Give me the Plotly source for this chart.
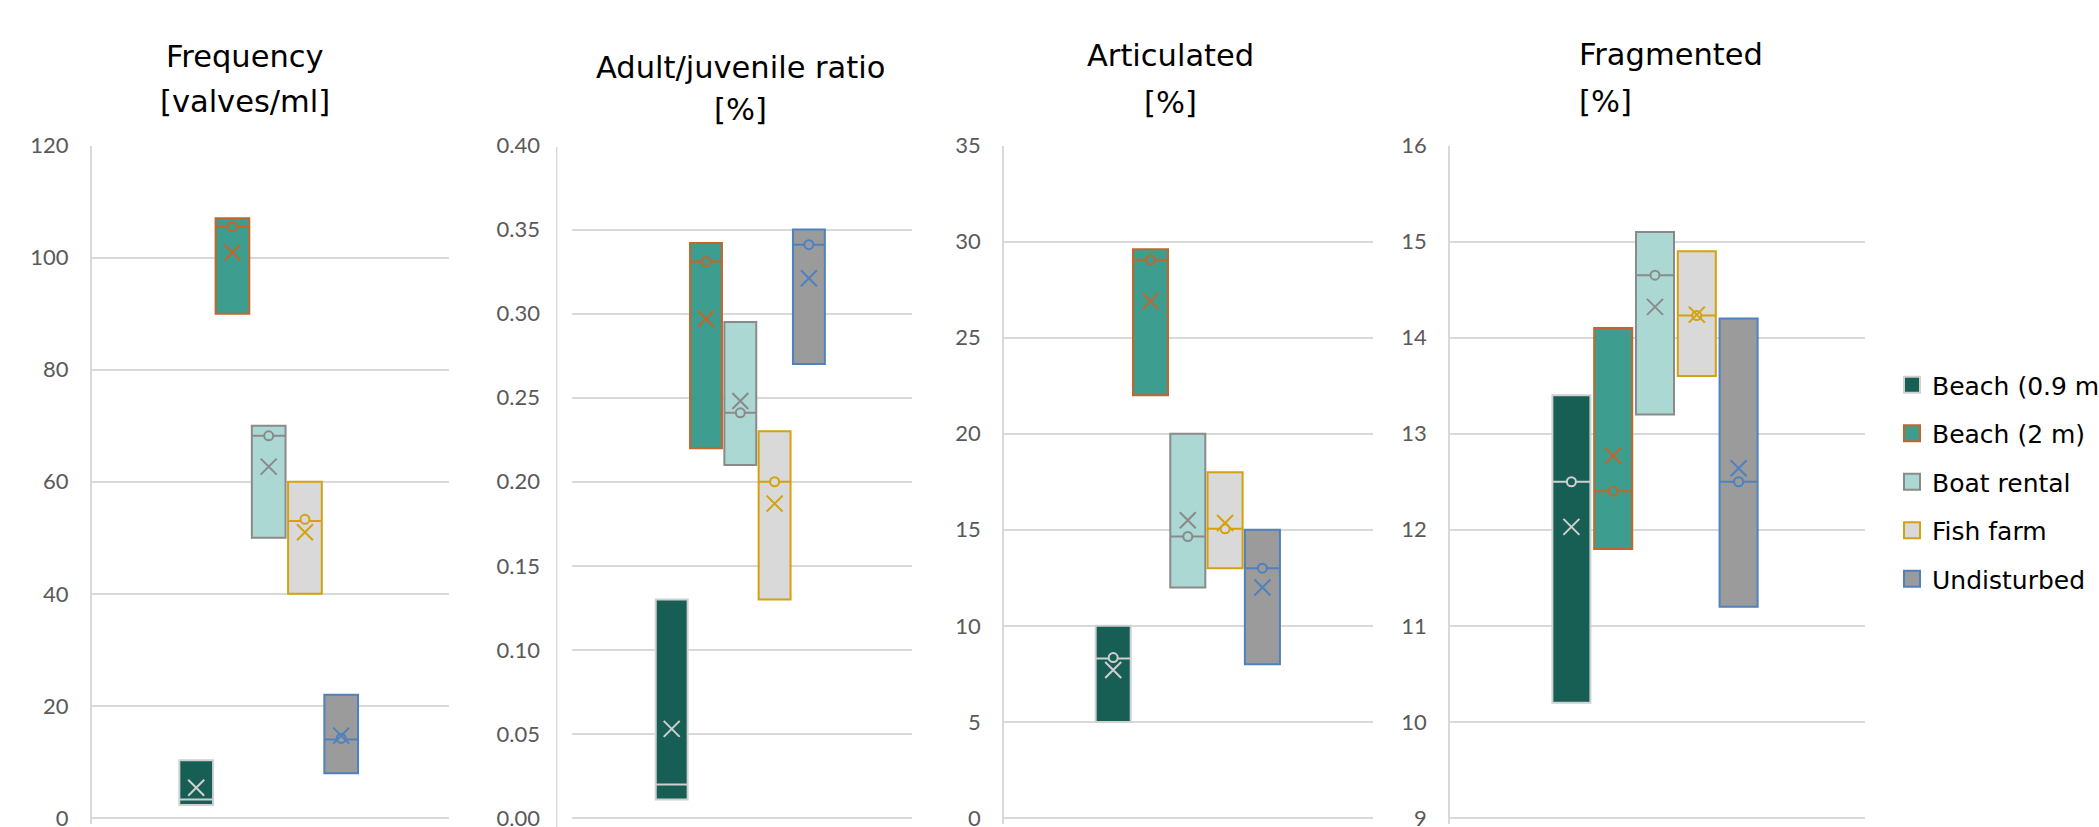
import plotly.graph_objects as go

W, H = 2099, 827

sites = ["Beach (0.9 m)", "Beach (2 m)", "Boat rental", "Fish farm", "Undisturbed"]
fill_colors = ["#175e54", "#3d9e8f", "#acd8d3", "#d9d9d9", "#9b9b9b"]
line_colors = ["#d0d0d0", "#c5652a", "#8a8a8a", "#d4a20c", "#4f81bd"]

# Frequency [valves/ml]
freq_low = [2.3, 90, 50, 40, 8]
freq_high = [10.3, 107, 70, 60, 22]
freq_median = [3.3, 105.5, 68.2, 53, 14]
freq_mean = [5.4, 100.9, 62.7, 51, 14.7]
freq_point = [None, 105.5, 68.2, 53.3, 14.2]

# Adult/juvenile ratio [%]
aj_low = [0.011, 0.22, 0.21, 0.13, 0.27]
aj_high = [0.13, 0.342, 0.295, 0.23, 0.35]
aj_median = [0.02, 0.331, 0.241, 0.2, 0.341]
aj_mean = [0.053, 0.297, 0.248, 0.187, 0.321]
aj_point = [None, 0.331, 0.241, 0.2, 0.341]

# Articulated [%]
art_low = [5, 22, 12, 13, 8]
art_high = [10, 29.6, 20, 18, 15]
art_median = [8.3, 29.05, 14.65, 15.05, 13]
art_mean = [7.7, 26.9, 15.5, 15.35, 12]
art_point = [8.35, 29.05, 14.65, 15.05, 13]

# Fragmented [%]
frag_low = [10.2, 11.8, 13.2, 13.6, 11.2]
frag_high = [13.4, 14.1, 15.1, 14.9, 14.2]
frag_median = [12.5, 12.4, 14.65, 14.23, 12.5]
frag_mean = [12.03, 12.77, 14.32, 14.24, 12.64]
frag_point = [12.5, 12.4, 14.65, 14.23, 12.5]

title_line1 = ["Frequency", "Adult/juvenile ratio", "Articulated", "Fragmented"]
title_line2 = ["[valves/ml]", "[%]", "[%]", "[%]"]

panels = [
    (freq_low, freq_high, freq_median, freq_mean, freq_point),
    (aj_low, aj_high, aj_median, aj_mean, aj_point),
    (art_low, art_high, art_median, art_mean, art_point),
    (frag_low, frag_high, frag_median, frag_mean, frag_point),
]

y_ranges = [[0, 120], [0, 0.4], [0, 35], [9, 16]]
y_dticks = [20, 0.05, 5, 1]
y_formats = ["d", ".2f", "d", "d"]

# layout geometry (pixels)
dom_px = [(91.7, 449), (572, 912), (1004, 1373), (1450, 1865)]
center_px = [268.7, 740.3, 1187.8, 1655]
spacing_px = [36.25, 34.3, 37.3, 41.8]
box_w = [0.93, 0.93, 0.94, 0.91]
standoff = [17, 31, 17, 17]
y_top_px, y_bot_px = 145.5, 818
pad_px = 6
FONT = "Lato"
TFONT = "DejaVu Sans"

fig = go.Figure()

for p, (lo, hi, med, mean, pt) in enumerate(panels):
    xa = "x" if p == 0 else f"x{p+1}"
    ya = "y" if p == 0 else f"y{p+1}"
    for i, s in enumerate(sites):
        fig.add_trace(go.Box(
            x=[s], q1=[lo[i]], median=[med[i]], q3=[hi[i]],
            lowerfence=[lo[i]], upperfence=[hi[i]],
            fillcolor=fill_colors[i], line=dict(color=line_colors[i], width=2),
            width=box_w[p], whiskerwidth=0, boxpoints=False,
            name=s, legendgroup=s, showlegend=False, xaxis=xa, yaxis=ya,
            hoverinfo="skip",
        ))
        if pt[i] is not None:
            fig.add_trace(go.Scatter(
                x=[s], y=[pt[i]], mode="markers",
                marker=dict(symbol="circle", size=9, color=fill_colors[i],
                            line=dict(color=line_colors[i], width=2)),
                name=s, legendgroup=s, showlegend=False, xaxis=xa, yaxis=ya,
            ))
        fig.add_trace(go.Scatter(
            x=[s], y=[mean[i]], mode="markers",
            marker=dict(symbol="x-thin", size=16,
                        line=dict(color=line_colors[i], width=2)),
            name=s, legendgroup=s, showlegend=False, xaxis=xa, yaxis=ya,
        ))

# legend entries
for i, s in enumerate(sites):
    fig.add_trace(go.Scatter(
        x=[None], y=[None], mode="markers",
        marker=dict(symbol="square", size=19, color=fill_colors[i],
                    line=dict(color=line_colors[i], width=2)),
        name=s, legendgroup=s, showlegend=True, xaxis="x", yaxis="y",
    ))

layout = dict(
    width=W, height=H,
    paper_bgcolor="white", plot_bgcolor="white",
    margin=dict(l=0, r=0, t=0, b=0, autoexpand=False),
    boxmode="overlay",
    showlegend=True,
    legend=dict(x=1892 / W, y=1 - 362 / H, xanchor="left", yanchor="top",
                font=dict(family=TFONT, size=25, color="#000000"),
                itemsizing="trace", tracegroupgap=13, bgcolor="rgba(0,0,0,0)"),
    font=dict(family=FONT),
)

ydom = [1 - (y_bot_px + pad_px) / H, 1 - y_top_px / H]
for p in range(4):
    sfx = "" if p == 0 else str(p + 1)
    d0, d1 = dom_px[p]
    lo_r = 2 - (center_px[p] - d0) / spacing_px[p]
    hi_r = 2 + (d1 - center_px[p]) / spacing_px[p]
    span = y_ranges[p][1] - y_ranges[p][0]
    ppu = (y_bot_px - y_top_px) / span
    layout["xaxis" + sfx] = dict(
        domain=[d0 / W, d1 / W], range=[lo_r, hi_r], type="category",
        categoryorder="array", categoryarray=sites,
        showticklabels=False, showgrid=False, zeroline=False, showline=False,
        anchor="y" + sfx, fixedrange=True, automargin=False,
    )
    layout["yaxis" + sfx] = dict(
        domain=ydom, range=[y_ranges[p][0] - pad_px / ppu, y_ranges[p][1]],
        dtick=y_dticks[p], tick0=y_ranges[p][0],
        tickformat=y_formats[p], anchor="x" + sfx,
        showgrid=True, gridcolor="#d9d9d9", gridwidth=1.5,
        zeroline=False,
        showline=(p != 1), linecolor="#d9d9d9", linewidth=1.5,
        ticks="", ticklabelstandoff=standoff[p], ticklabeloverflow="allow",
        tickfont=dict(family=FONT, size=22, color="#595959"),
        fixedrange=True, automargin=False,
    )

fig.update_layout(**layout)

# separate axis line for panel 2 (sits left of its gridlines)
fig.add_shape(type="line", xref="paper", yref="paper",
              x0=556.7 / W, x1=556.7 / W, y0=0, y1=1 - 147 / H,
              line=dict(color="#d9d9d9", width=1.5))

# panel titles
t1_y = [57, 67.5, 55.5, 54]
t2_y = [101.7, 110, 102.8, 101.7]
t_x = [245, 740.5, 1170, 1577]
for p in range(4):
    left = (p == 3)
    for txt, ty in ((title_line1[p], t1_y[p]), (title_line2[p], t2_y[p])):
        fig.add_annotation(text=txt, xref="paper", yref="paper",
                           x=t_x[p] / W, y=1 - ty / H,
                           xanchor="left" if left else "center", yanchor="middle",
                           showarrow=False, font=dict(family=TFONT, size=30.5, color="#000000"))

fig.write_html(
    "out.html",
    config={"displayModeBar": False},
    post_script="document.body.style.margin='0';document.body.style.overflow='hidden';",
)
